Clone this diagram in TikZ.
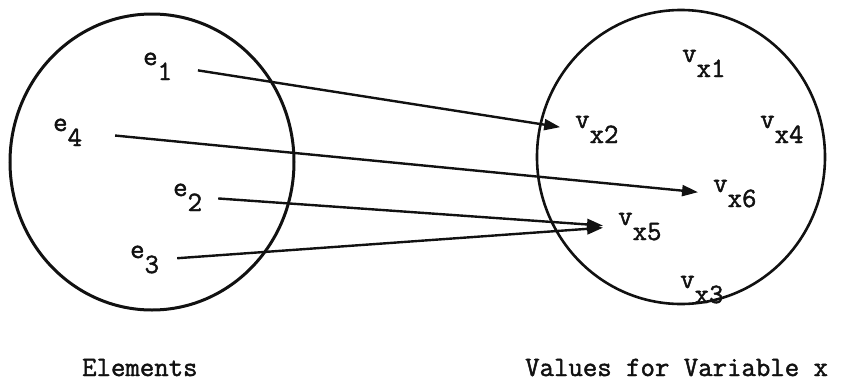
\documentclass[tikz,border=0pt]{standalone}
\usepackage{fontspec}
\newfontfamily\typefont[FakeBold=1.6]{Latin Modern Mono}
\usetikzlibrary{arrows.meta}
\definecolor{cInk}{HTML}{111111}
% typed subscript: same size, dropped half a line
\newcommand{\lowsub}[2]{#1\raisebox{-15pt}{#2}}

\begin{document}
\begin{tikzpicture}[x=1pt,y=-1pt,
      font=\typefont\fontsize{28}{32}\selectfont,
      lbl/.style={anchor=base west,inner sep=0pt,text=cInk},
      set/.style={draw=cInk,line width=2.6pt},
      map/.style={draw=cInk,line width=2.4pt,-{Triangle[length=16pt,width=11pt]},shorten >=15pt}]
    \useasboundingbox (0,0) rectangle (844,381);

    % the two sets
    \draw[set,line width=3pt] (152,162) ellipse [x radius=142pt,y radius=148pt];
    \draw[set] (681,157) ellipse [x radius=144pt,y radius=147pt];

    % elements
    \node[lbl] (e1) at (143,65)  {\lowsub{e}{1}};
    \node[lbl] (e4) at (53,131)  {\lowsub{e}{4}};
    \node[lbl] (e2) at (173,196) {\lowsub{e}{2}};
    \node[lbl] (e3) at (130,258) {\lowsub{e}{3}};

    % values
    \node[lbl] (vx1) at (682,62)  {\lowsub{v}{x1}};
    \node[lbl] (vx2) at (575,128) {\lowsub{v}{x2}};
    \node[lbl] (vx4) at (760,128) {\lowsub{v}{x4}};
    \node[lbl] (vx6) at (713,192) {\lowsub{v}{x6}};
    \node[lbl] (vx5) at (618,225) {\lowsub{v}{x5}};
    \node[lbl] (vx3) at (680,288) {\lowsub{v}{x3}};

    \foreach \a/\b/\s in {e1/vx2/26,e4/vx6/33,e2/vx5/16,e3/vx5/18}
      \draw[map,shorten <=\s pt] (\a.east) -- (\b.west);

    \node[lbl] (elems) at (82,376)  {Elements};
    \node[lbl] (vals)  at (525,376) {Values for Variable x};
  \end{tikzpicture}
\end{document}
